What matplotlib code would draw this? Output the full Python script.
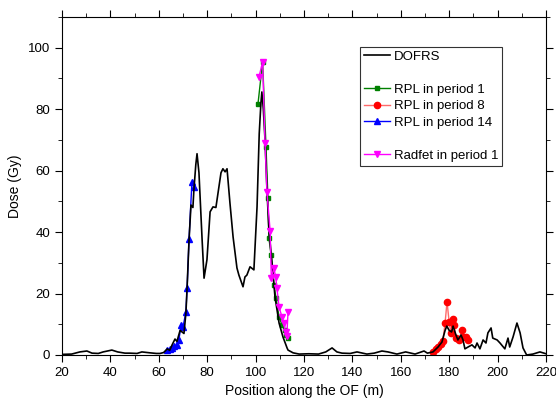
import matplotlib
matplotlib.use("Agg")
import matplotlib.pyplot as plt
from matplotlib.lines import Line2D
from matplotlib.ticker import MultipleLocator

plt.rcParams['font.family'] = ['Liberation Sans', 'DejaVu Sans']

# DOFRS dose profile along the fibre
dofrs_x = [20, 24, 27.4, 30.3, 32.4, 35, 37, 40.6, 43, 46, 48, 51, 53, 56.4, 59, 60.5,
           62, 63.5, 64.5, 65.5, 66.7, 67.5, 68.8, 70.4, 71.2, 71.7, 72.5, 73.3, 74.1,
           74.5, 75.3, 75.8, 76.6, 77.9, 78.7, 79.9, 81.2, 82.4, 83.6, 85.7, 86.5, 87.4, 88.2,
           89.4, 90.7, 92.3, 93.1, 94.8, 95.6, 96.4, 97.7, 99.3, 100.6, 101.5, 102.2, 102.6,
           103.2, 103.9, 104.7, 105.5, 106.8, 108, 109.7, 111.3, 113, 113.4, 115.5, 118, 122,
           126, 129, 131.6, 133.6, 135.7, 139.1, 141.9, 146, 149, 152.2, 154.7, 158.4,
           162, 165.9, 169.6, 171, 173.3, 175.4, 177, 178.3, 179, 180, 181, 181.6, 182.8,
           183.6, 184.9, 185.7, 186.5, 187.8, 189.4, 190.7, 191.5, 192.7, 194, 195.2,
           196, 197.3, 198, 199.8, 201, 203, 204.3, 205, 206.4, 208, 209.3, 210.5, 212,
           214.6, 217.5, 219.6, 220]
dofrs_y = [0.2, 0.3, 1.0, 1.3, 0.6, 0.5, 1.0, 1.6, 1.0, 0.6, 0.6, 0.5, 1.0, 0.7, 0.5, 0.5,
           0.8, 2.0, 1.5, 3.3, 5.2, 4.4, 8.0, 7.0, 13.6, 22.0, 37.4, 48.8, 48.0,
           53.7, 62.0, 65.5, 59.3, 37.5, 25.0, 31.0, 46.6, 48.2, 48.0, 59.3, 60.6, 59.6, 60.6,
           49.5, 38.4, 28.3, 26.0, 22.2, 25.4, 26.0, 28.7, 27.7, 48.2, 72.0, 82.0, 85.6,
           80.0, 70.0, 53.7, 40.7, 30.0, 19.0, 10.4, 5.9, 2.3, 1.6, 0.7, 0.3, 0.4,
           0.3, 1.0, 2.3, 1.0, 0.6, 0.5, 1.0, 0.3, 0.6, 1.3, 1.0, 0.3,
           1.0, 0.3, 1.3, 0.6, 1.0, 2.6, 4.2, 8.0, 9.4, 8.0, 7.5, 9.4, 6.5,
           4.9, 6.5, 4.9, 2.0, 2.6, 3.3, 2.3, 3.9, 2.0, 4.9, 3.9,
           7.2, 8.8, 5.5, 4.9, 3.9, 2.0, 5.5, 2.6, 5.9, 10.4, 7.2, 2.3, 0.0,
           0.3, 1.0, 0.5, 0.4]

# RPL in period 1
rpl1_x = [101.0, 102.9, 104.3, 105.1, 105.5, 106.4, 107.6, 108.4, 109.7, 110.9, 112.0, 112.6, 113.4]
rpl1_y = [81.8, 95.4, 67.7, 51.1, 38.1, 32.6, 22.8, 18.7, 12.4, 9.8, 8.1, 6.5, 5.5]

# RPL in period 8
rpl8_x = [173.3, 174.5, 175.4, 176.6, 177.4, 178.3, 179.1, 180.0, 180.7, 181.5, 182.0,
          182.8, 184.0, 185.3, 185.7, 186.9, 187.8]
rpl8_y = [1.0, 2.0, 2.6, 3.6, 4.6, 10.4, 17.3, 10.7, 7.2, 11.7, 9.8,
          5.5, 4.9, 8.1, 6.0, 5.9, 4.9]

# RPL in period 14
rpl14_x = [63.4, 64.5, 65.5, 66.3, 67.5, 68.3, 69.2, 70.0, 71.2, 71.7, 72.5, 73.7, 74.5]
rpl14_y = [1.6, 2.0, 2.3, 2.9, 3.3, 4.9, 9.8, 9.1, 14.0, 21.8, 37.8, 56.4, 54.7]

# Radfet in period 1
radfet_x = [101.4, 102.9, 103.9, 104.7, 106.0, 106.5, 107.5, 108.3, 108.8, 109.7, 110.9,
            111.6, 112.4, 112.9, 113.4]
radfet_y = [90.5, 95.4, 69.0, 53.0, 40.4, 25.0, 28.3, 25.4, 21.8, 15.6, 12.4,
            10.4, 7.5, 6.2, 14.0]

fig = plt.figure(figsize=(5.56, 4.04), dpi=100)
ax = fig.add_axes([0.1115, 0.1213, 0.8705, 0.8367])

ax.plot(dofrs_x, dofrs_y, color='black', lw=1.2, label='DOFRS', zorder=3)
ax.plot(rpl1_x, rpl1_y, color='green', marker='s', ms=3.5, lw=1, label='RPL in period 1', zorder=2)
ax.plot(rpl8_x, rpl8_y, color='#ff6a6a', marker='o', ms=4.5, mfc='red', mec='red', lw=1,
        label='RPL in period 8', zorder=2)
ax.plot(rpl14_x, rpl14_y, color='blue', marker='^', ms=4.5, lw=1, label='RPL in period 14', zorder=2)
ax.plot(radfet_x, radfet_y, color='magenta', marker='v', ms=5, lw=1, label='Radfet in period 1', zorder=4)

ax.set_xlim(20, 220)
ax.set_ylim(0, 110)
ax.xaxis.set_major_locator(MultipleLocator(20))
ax.xaxis.set_minor_locator(MultipleLocator(10))
ax.yaxis.set_major_locator(MultipleLocator(20))
ax.yaxis.set_minor_locator(MultipleLocator(10))
ax.tick_params(which='both', direction='out', top=True, right=True, labelsize=9.5)
ax.tick_params(which='major', length=5)
ax.tick_params(which='minor', length=3)
ax.set_xlabel('Position along the OF (m)', fontsize=10)
ax.set_ylabel('Dose (Gy)', fontsize=10)

# legend with blank rows like the original
handles, labels = ax.get_legend_handles_labels()
blank = Line2D([], [], color='none')
handles = [handles[0], blank, handles[1], handles[2], handles[3], blank, handles[4]]
labels = [labels[0], ' ', labels[1], labels[2], labels[3], ' ', labels[4]]
leg = ax.legend(handles, labels, loc='upper left', bbox_to_anchor=(0.615, 0.912),
                fontsize=9.5, frameon=True, fancybox=False, edgecolor='black',
                handlelength=2.0, handletextpad=0.3, labelspacing=0.32,
                borderpad=0.3, borderaxespad=0)
leg.get_frame().set_linewidth(0.8)

fig.savefig('out.png', dpi=100)
